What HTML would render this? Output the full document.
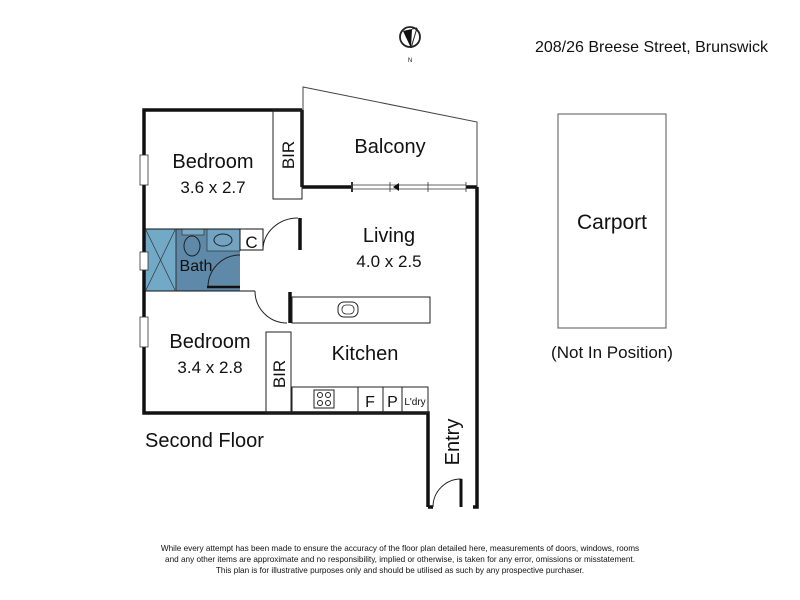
<!DOCTYPE html>
<html><head><style>body{margin:0;background:#fff}svg{display:block}text{font-family:"Liberation Sans",sans-serif;fill:#111}</style></head>
<body>
<svg width="800" height="600" viewBox="0 0 800 600" xmlns="http://www.w3.org/2000/svg">
<!-- compass -->
<circle cx="410" cy="37" r="10" fill="none" stroke="#222" stroke-width="1.8"/>
<polygon points="403,31 412,29 411,48" fill="#111"/>
<line x1="412" y1="29" x2="417" y2="28" stroke="#222" stroke-width="1"/>
<line x1="417" y1="28" x2="411" y2="48" stroke="#222" stroke-width="1"/>
<text x="410" y="62" font-size="6" text-anchor="middle">N</text>
<text x="768" y="52" font-size="16" text-anchor="end">208/26 Breese Street, Brunswick</text>

<!-- bath fills -->
<rect x="145" y="229" width="95" height="62" fill="#5e89a8"/>
<rect x="145" y="229" width="31" height="62" fill="#72a9c6"/>
<rect x="207" y="229" width="33" height="22" fill="#72a3c0" stroke="#333" stroke-width="0.7"/>
<ellipse cx="223" cy="240" rx="9" ry="6" fill="none" stroke="#222" stroke-width="1"/>
<rect x="182" y="229" width="22" height="6" fill="#7aaac6" stroke="#333" stroke-width="0.7"/>
<ellipse cx="192" cy="246" rx="8" ry="10" fill="none" stroke="#222" stroke-width="1"/>
<path d="M146,230 L175,290 M175,230 L146,290" stroke="#333" stroke-width="0.7"/>
<line x1="176" y1="229" x2="176" y2="291" stroke="#333" stroke-width="1"/>
<path d="M208,287 A32,32 0 0 1 240,255" fill="none" stroke="#222" stroke-width="1"/>
<line x1="207" y1="287" x2="240" y2="287" stroke="#111" stroke-width="2.5"/>
<line x1="145" y1="229" x2="263" y2="229" stroke="#111" stroke-width="1"/>
<line x1="145" y1="291" x2="255" y2="291" stroke="#111" stroke-width="1"/>
<rect x="240" y="229" width="23" height="21" fill="#fff" stroke="#111" stroke-width="1"/>
<text x="251.5" y="248" font-size="17" text-anchor="middle">C</text>
<text x="196" y="271" font-size="16" text-anchor="middle">Bath</text>

<!-- outer walls -->
<g stroke="#111" stroke-width="3.5" fill="none">
<polyline points="302,110 144,110 144,413 428,413 428,507"/>
<line x1="302" y1="110" x2="302" y2="187"/>
<line x1="302" y1="187" x2="352" y2="187"/>
<line x1="466" y1="187" x2="477" y2="187"/>
<polyline points="477,187 477,507 473,507"/>
<line x1="433" y1="507" x2="428" y2="507"/>
<line x1="300" y1="218" x2="300" y2="250"/>
<line x1="290" y1="292" x2="290" y2="323"/>
</g>
<!-- windows left -->
<g fill="#fff" stroke="#333" stroke-width="0.8">
<rect x="140" y="155" width="8" height="30"/>
<rect x="140" y="252" width="8" height="18"/>
<rect x="140" y="317" width="8" height="30"/>
</g>
<!-- balcony door -->
<g stroke="#333" stroke-width="0.8">
<line x1="352" y1="185" x2="466" y2="185"/><line x1="352" y1="189" x2="466" y2="189"/>
<line x1="352" y1="182" x2="352" y2="192" stroke-width="2"/><line x1="390" y1="182" x2="390" y2="192"/>
<line x1="428" y1="182" x2="428" y2="192"/><line x1="466" y1="182" x2="466" y2="192"/>
</g>
<polygon points="393,187 399,183 399,191" fill="#111"/>
<!-- balcony outline -->
<polyline points="303,110 303,87 477,122 477,187" fill="none" stroke="#444" stroke-width="1"/>
<!-- BIRs -->
<rect x="273" y="110" width="29" height="89" fill="none" stroke="#222" stroke-width="1"/>
<rect x="266" y="332" width="25" height="81" fill="none" stroke="#222" stroke-width="1"/>
<text transform="translate(294,155) rotate(-90)" font-size="17" text-anchor="middle">BIR</text>
<text transform="translate(285,374) rotate(-90)" font-size="17" text-anchor="middle">BIR</text>
<!-- doors -->
<g fill="none" stroke="#222" stroke-width="1">
<path d="M263,250 A35,32 0 0 1 298,218"/>
<path d="M255,291 A32,32 0 0 0 287,323"/>
<path d="M433,507 A28,28 0 0 1 461,479 L461,507"/>
</g>
<line x1="461" y1="479" x2="461" y2="507" stroke="#111" stroke-width="3"/>
<!-- kitchen -->
<rect x="292" y="297" width="138" height="26" fill="none" stroke="#222" stroke-width="1"/>
<rect x="338" y="302" width="20" height="15" rx="6" fill="none" stroke="#222" stroke-width="1"/>
<rect x="342" y="305" width="12" height="9" rx="4" fill="none" stroke="#222" stroke-width="0.8"/>
<g fill="none" stroke="#222" stroke-width="1">
<rect x="292" y="387" width="66" height="26"/>
<rect x="358" y="387" width="25" height="26"/>
<rect x="383" y="387" width="19" height="26"/>
<rect x="402" y="387" width="26" height="26"/>
<rect x="314" y="390" width="20" height="18"/>
<circle cx="320" cy="395" r="2.5"/><circle cx="328" cy="395" r="2.5"/>
<circle cx="320" cy="403" r="2.5"/><circle cx="328" cy="403" r="2.5"/>
</g>
<text x="370" y="407" font-size="16" text-anchor="middle">F</text>
<text x="392.5" y="407" font-size="16" text-anchor="middle">P</text>
<text x="415" y="405" font-size="10" text-anchor="middle">L'dry</text>
<!-- labels -->
<text x="213" y="168" font-size="20" text-anchor="middle">Bedroom</text>
<text x="213" y="193" font-size="17" text-anchor="middle">3.6 x 2.7</text>
<text x="390" y="153" font-size="20" text-anchor="middle">Balcony</text>
<text x="389" y="242" font-size="20" text-anchor="middle">Living</text>
<text x="389" y="267" font-size="17" text-anchor="middle">4.0 x 2.5</text>
<text x="210" y="348" font-size="20" text-anchor="middle">Bedroom</text>
<text x="210" y="373" font-size="17" text-anchor="middle">3.4 x 2.8</text>
<text x="365" y="360" font-size="20" text-anchor="middle">Kitchen</text>
<text transform="translate(459,442) rotate(-90)" font-size="20" text-anchor="middle">Entry</text>
<text x="145" y="447" font-size="20">Second Floor</text>
<!-- carport -->
<rect x="558" y="114" width="108" height="214" fill="none" stroke="#555" stroke-width="1"/>
<text x="612" y="229" font-size="21" text-anchor="middle">Carport</text>
<text x="612" y="358" font-size="17" text-anchor="middle">(Not In Position)</text>
<!-- footer -->
<g font-size="8.2" text-anchor="middle">
<text x="400" y="551">While every attempt has been made to ensure the accuracy of the floor plan detailed here, measurements of doors, windows, rooms</text>
<text x="400" y="562">and any other items are approximate and no responsibility, implied or otherwise, is taken for any error, omissions or misstatement.</text>
<text x="400" y="573">This plan is for illustrative purposes only and should be utilised as such by any prospective purchaser.</text>
</g>
</svg>
</body></html>
